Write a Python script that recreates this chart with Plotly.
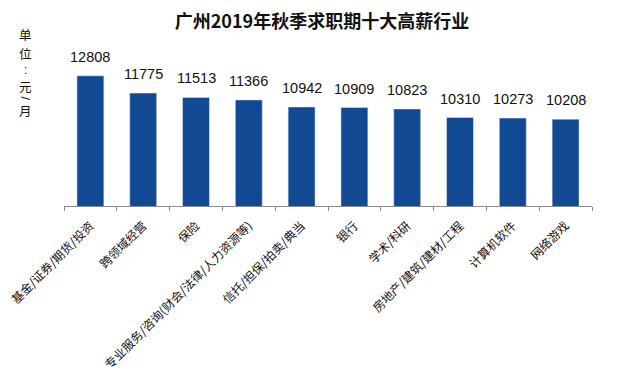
import plotly.graph_objects as go

categories = ["基金/证券/期货/投资", "跨领域经营", "保险", "专业服务/咨询(财会/法律/人力资源等)",
              "信托/担保/拍卖/典当", "银行", "学术/科研", "房地产/建筑/建材/工程", "计算机软件", "网络游戏"]
salaries = [12808, 11775, 11513, 11366, 10942, 10909, 10823, 10310, 10273, 10208]
title_text = "广州2019年秋季求职期十大高薪行业"
unit_chars = ["单", "位", ":", "元", "/", "月"]

BAR = "#114A93"
CJK = "Noto Sans CJK SC"
# page is offset by the browser's 8px body margin: plot area spans screen x 64..592, y 56..206
OFF = 8

fig = go.Figure(go.Bar(x=categories, y=salaries, marker_color=BAR, width=0.51))

for c, v in zip(categories, salaries):
    fig.add_annotation(x=c, y=v, text=str(v), showarrow=False, yanchor="bottom",
                       yshift=9, font=dict(family="Liberation Sans", size=14.5, color="#111"))

# vertical stacked unit label (screen-pixel centres)
unit_y = [34, 53.5, 70, 86.5, 98.5, 110.5]
for ch, yc in zip(unit_chars, unit_y):
    latin = ch in (":", "/")
    fig.add_annotation(xref="paper", yref="paper", x=0, y=1, xshift=-39, yshift=56 - yc,
                       text=ch, showarrow=False, xanchor="center", yanchor="middle",
                       borderpad=0, textangle=90 if ch == "/" else 0,
                       font=dict(family="Liberation Sans" if latin else CJK, size=12.5, color="#111"))

fig.update_layout(
    width=640, height=374,
    margin=dict(l=64 - OFF, r=640 - (592 - OFF), t=56 - OFF, b=374 - (206 - OFF), autoexpand=False),
    paper_bgcolor="white", plot_bgcolor="white",
    showlegend=False,
    title=dict(text="<b>" + title_text + "</b>", x=(322 - OFF) / 640, xanchor="center",
               y=1 - (22 - OFF) / 374, yanchor="middle",
               font=dict(family=CJK, size=18, color="#111")),
    bargap=0.49,
)
fig.update_xaxes(showline=True, linecolor="#8c8c8c", linewidth=1, ticks="outside",
                 tickson="boundaries", ticklen=4, tickcolor="#8c8c8c", tickangle=-45,
                 ticklabelstandoff=7, automargin=False,
                 tickfont=dict(family=CJK, size=12, color="#111"), showgrid=False)
fig.update_yaxes(range=[5000, 14000], visible=False, showgrid=False, automargin=False)

fig.write_html("out.html")
